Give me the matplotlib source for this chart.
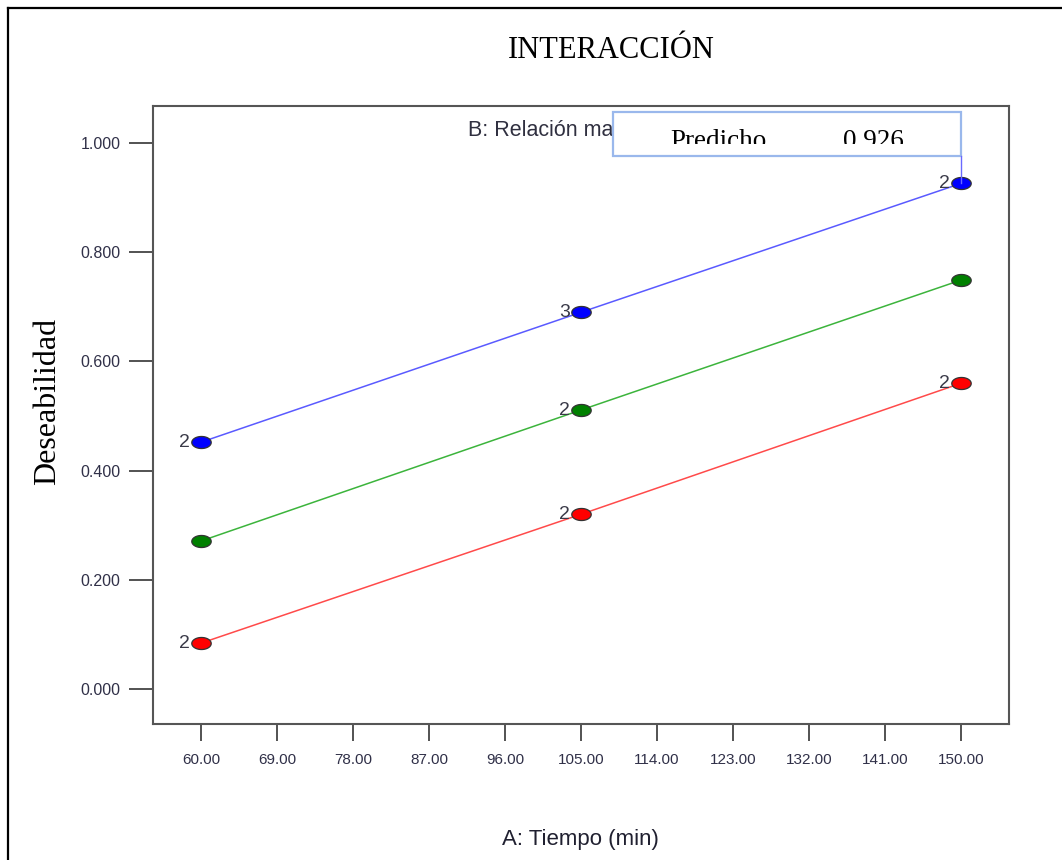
import matplotlib
matplotlib.use("Agg")
import matplotlib.pyplot as plt
import numpy as np
from matplotlib.path import Path
from matplotlib.patches import Rectangle
from matplotlib.lines import Line2D

# ---- data ----
tiempo = [60, 105, 150]
serie_alta = [0.452, 0.690, 0.926]    # blue
serie_media = [0.271, 0.511, 0.749]   # green
serie_baja = [0.084, 0.320, 0.560]    # red
etiquetas_alta = ["2", "3", "2"]
etiquetas_media = ["", "2", ""]
etiquetas_baja = ["2", "2", "2"]
xticks = [60, 69, 78, 87, 96, 105, 114, 123, 132, 141, 150]
yticks = [0.0, 0.2, 0.4, 0.6, 0.8, 1.0]
predicho = 0.926

W, H = 1062, 860
fig = plt.figure(figsize=(W / 100, H / 100), dpi=100)
fig.patch.set_facecolor("white")

def fx(px):
    return px / W

def fy(py):
    return 1 - py / H

X0, X1 = 54.32, 155.68
Y0, Y1 = -0.0641, 1.0678
ax = fig.add_axes([fx(153), fy(724), fx(1009) - fx(153), fy(106) - fy(724)])
ax.set_xlim(X0, X1)
ax.set_ylim(Y0, Y1)

def dx(px):
    return X0 + (px - 153) * (X1 - X0) / (1009 - 153)

def dy(py):
    return Y1 - (py - 106) * (Y1 - Y0) / (724 - 106)

# elliptical marker
t = np.linspace(0, 2 * np.pi, 60)
ell = Path(np.column_stack([np.cos(t), 0.62 * np.sin(t)]), closed=True)

series = [
    (serie_alta, "#5a5aff", "#0000ff", etiquetas_alta),
    (serie_media, "#3cb43c", "#008000", etiquetas_media),
    (serie_baja, "#ff4a4a", "#ff0000", etiquetas_baja),
]
for vals, lc, mc, labs in series:
    ax.plot(tiempo, vals, color=lc, lw=1.1, zorder=2)
    ax.plot(tiempo, vals, ls="none", marker=ell, ms=14, mfc=mc,
            mec="#333333", mew=0.9, zorder=3)
    for xv, yv, lab in zip(tiempo, vals, labs):
        if lab:
            ax.annotate(lab, (xv, yv), xytext=(-8, 0), textcoords="offset points",
                        ha="right", va="center", fontsize=14,
                        family="Liberation Sans", color="#3a3a48", zorder=4)

ax.set_xticks(xticks)
ax.set_xticklabels([f"{v:.2f}" for v in xticks])
ax.set_yticks(yticks)
ax.set_yticklabels([f"{v:.3f}" for v in yticks])
ax.tick_params(axis="x", direction="out", length=12, width=1.3, color="#444444",
               labelsize=11, labelcolor="#303048", pad=9)
ax.tick_params(axis="y", direction="out", length=17, width=1.3, color="#444444",
               labelsize=11.5, labelcolor="#303048", pad=6.5)
for lab in ax.get_xticklabels() + ax.get_yticklabels():
    lab.set_family("Liberation Sans")
for sp in ax.spines.values():
    sp.set_color("#555555")
    sp.set_linewidth(1.5)

# prediction box geometry
bx0 = dx(613)
by_top = dy(112)
by_bot = dy(156)

# factor B label (cut off by the box, as in the original)
tb = ax.text(dx(468), dy(130), "B: Relación ma",
             ha="left", va="center", fontsize=15.5, family="Liberation Sans",
             color="#303040", zorder=4)
clipB = Rectangle((X0, Y0), bx0 - X0, Y1 - Y0, transform=ax.transData)
tb.set_clip_path(clipB)
tb.set_clip_on(True)

box = Rectangle((bx0, by_bot), 150 - bx0, by_top - by_bot, facecolor="white",
                edgecolor="#9ab8ec", lw=1.6, zorder=5, clip_on=False)
ax.add_patch(box)
ax.plot([150, 150], [by_bot, predicho], color="#6a6aff", lw=1.0, zorder=5)
clip = Rectangle((bx0, dy(144)), 150 - bx0, by_top - dy(144), transform=ax.transData)
y_txt = dy(148)
t1 = ax.text(dx(670), y_txt, "Predicho", ha="left", va="baseline",
             fontsize=19.5, family="Liberation Serif", color="black", zorder=6)
t2 = ax.text(dx(843), y_txt, f"{predicho:.3f}", ha="left",
             va="baseline", fontsize=19.5, family="Liberation Serif", color="black", zorder=6)
for tt in (t1, t2):
    tt.set_clip_path(clip)
    tt.set_clip_on(True)

# titles
fig.text(fx(611), fy(50), "INTERACCIÓN", ha="center", va="center",
         fontsize=22, family="Liberation Serif", color="black")
fig.text(fx(48), fy(401), "Deseabilidad", ha="center", va="center", rotation=90,
         fontsize=23, family="Liberation Serif", color="black")
fig.text(fx(580), fy(840), "A: Tiempo (min)", ha="center", va="center",
         fontsize=16, family="Liberation Sans", color="#202030")

# outer frame
fig.add_artist(Line2D([fx(8), 1], [fy(8), fy(8)], color="black", lw=1.6))
fig.add_artist(Line2D([fx(8), fx(8)], [0, fy(8)], color="black", lw=1.6))

fig.savefig("out.png", dpi=100, facecolor="white")
